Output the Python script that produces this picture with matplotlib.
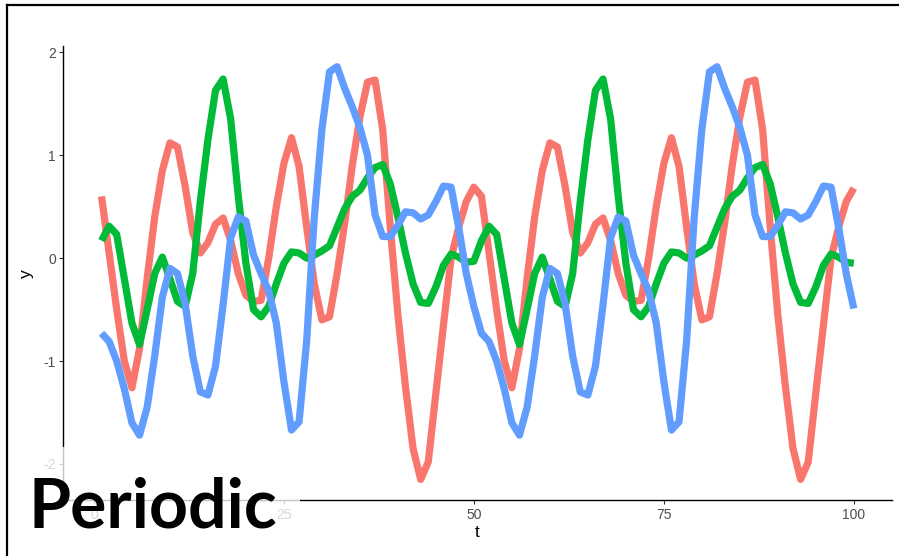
import numpy as np
import matplotlib
matplotlib.use("Agg")
import matplotlib.pyplot as plt
from matplotlib.patches import Rectangle
from matplotlib.lines import Line2D

# time index
t = np.arange(1, 101)

# series (period 50)
red = [
    0.60, 0.05, -0.50, -1.00, -1.26, -0.88, -0.20, 0.40, 0.85, 1.12,
    1.08, 0.70, 0.25, 0.05, 0.15, 0.33, 0.39, 0.17, -0.15, -0.36,
    -0.42, -0.41, 0.00, 0.50, 0.92, 1.17, 0.89, 0.30, -0.25, -0.60,
    -0.57, -0.15, 0.34, 0.90, 1.37, 1.71, 1.73, 1.25, 0.30, -0.55,
    -1.25, -1.85, -2.15, -1.98, -1.31, -0.65, 0.00, 0.30, 0.55, 0.69,
    0.60, 0.05, -0.50, -1.00, -1.26, -0.88, -0.20, 0.40, 0.85, 1.12,
    1.08, 0.70, 0.25, 0.05, 0.15, 0.33, 0.39, 0.17, -0.15, -0.36,
    -0.42, -0.41, 0.00, 0.50, 0.92, 1.17, 0.89, 0.30, -0.25, -0.60,
    -0.57, -0.15, 0.34, 0.90, 1.37, 1.71, 1.73, 1.25, 0.30, -0.55,
    -1.25, -1.85, -2.15, -1.98, -1.31, -0.65, 0.00, 0.30, 0.55, 0.68,
]
green = [
    0.17, 0.31, 0.23, -0.20, -0.63, -0.84, -0.50, -0.15, 0.01, -0.20,
    -0.42, -0.47, -0.15, 0.55, 1.15, 1.63, 1.74, 1.35, 0.60, -0.05,
    -0.50, -0.57, -0.47, -0.25, -0.05, 0.06, 0.05, 0.00, 0.03, 0.07,
    0.12, 0.30, 0.48, 0.60, 0.66, 0.78, 0.88, 0.91, 0.72, 0.40,
    0.05, -0.25, -0.43, -0.44, -0.28, -0.07, 0.04, 0.01, -0.04, -0.03,
    0.17, 0.31, 0.23, -0.20, -0.63, -0.84, -0.50, -0.15, 0.01, -0.20,
    -0.42, -0.47, -0.15, 0.55, 1.15, 1.63, 1.74, 1.35, 0.60, -0.05,
    -0.50, -0.57, -0.47, -0.25, -0.05, 0.06, 0.05, 0.00, 0.03, 0.07,
    0.12, 0.30, 0.48, 0.60, 0.66, 0.78, 0.88, 0.91, 0.72, 0.40,
    0.05, -0.25, -0.43, -0.44, -0.28, -0.07, 0.04, 0.01, -0.04, -0.05,
]
blue = [
    -0.73, -0.81, -1.00, -1.27, -1.60, -1.72, -1.45, -0.95, -0.38, -0.10,
    -0.15, -0.44, -0.95, -1.30, -1.33, -1.05, -0.45, 0.20, 0.40, 0.36,
    0.03, -0.15, -0.32, -0.63, -1.20, -1.67, -1.59, -0.80, 0.40, 1.25,
    1.81, 1.86, 1.65, 1.47, 1.27, 1.00, 0.42, 0.21, 0.21, 0.32,
    0.45, 0.44, 0.38, 0.42, 0.55, 0.70, 0.69, 0.30, -0.15, -0.47,
    -0.73, -0.81, -1.00, -1.27, -1.60, -1.72, -1.45, -0.95, -0.38, -0.10,
    -0.15, -0.44, -0.95, -1.30, -1.33, -1.05, -0.45, 0.20, 0.40, 0.36,
    0.03, -0.15, -0.32, -0.63, -1.20, -1.67, -1.59, -0.80, 0.40, 1.25,
    1.81, 1.86, 1.65, 1.47, 1.27, 1.00, 0.42, 0.21, 0.21, 0.32,
    0.45, 0.44, 0.38, 0.42, 0.55, 0.70, 0.69, 0.30, -0.15, -0.49,
]

x_ticks = [0, 25, 50, 75, 100]
y_ticks = [-2, -1, 0, 1, 2]
COLS = ["#F8766D", "#00BA38", "#619CFF"]

plt.rcParams["font.family"] = ["Liberation Sans", "DejaVu Sans"]

fig = plt.figure(figsize=(8.99, 5.56), dpi=100)
ax = fig.add_axes([0.070, 0.1007, 0.922, 0.816])

for ys, c in zip([red, green, blue], COLS):
    ax.plot(t, ys, color=c, lw=5.2, solid_joinstyle="round", solid_capstyle="butt")

ax.set_xlim(-4.08, 105.0)
ax.set_ylim(-2.35, 2.058)
ax.set_xticks(x_ticks)
ax.set_yticks(y_ticks)
ax.set_xticklabels([str(v) for v in x_ticks])
ax.set_yticklabels([str(v) for v in y_ticks])
ax.tick_params(colors="#333333", labelcolor="#4D4D4D", labelsize=10,
               length=3, width=0.8)
ax.tick_params(axis="x", pad=3)
ax.tick_params(axis="y", pad=2)
for s in ["top", "right"]:
    ax.spines[s].set_visible(False)
for s in ["left", "bottom"]:
    ax.spines[s].set_linewidth(1.0)
    ax.spines[s].set_color("black")
ax.set_xlabel("t", fontsize=12.5, labelpad=2)
ax.set_ylabel("y", fontsize=12.5, labelpad=7)

# faded box behind the label
fig.patches.append(Rectangle((10 / 899, 0), 290 / 899, 109 / 556,
                             transform=fig.transFigure, facecolor="white",
                             alpha=0.78, edgecolor="none", zorder=5))
fig.text(29 / 899, 1 - 528 / 556, "Periodic", fontsize=49, fontweight="bold",
         family="Lato", color="black", ha="left", va="baseline", zorder=6)

# slide frame (top and left)
fig.lines.append(Line2D([7 / 899, 1], [1 - 5 / 556, 1 - 5 / 556],
                        transform=fig.transFigure, color="black", lw=1.6))
fig.lines.append(Line2D([7 / 899, 7 / 899], [0, 1 - 5 / 556],
                        transform=fig.transFigure, color="black", lw=1.6))

fig.savefig("out.png", dpi=100)
